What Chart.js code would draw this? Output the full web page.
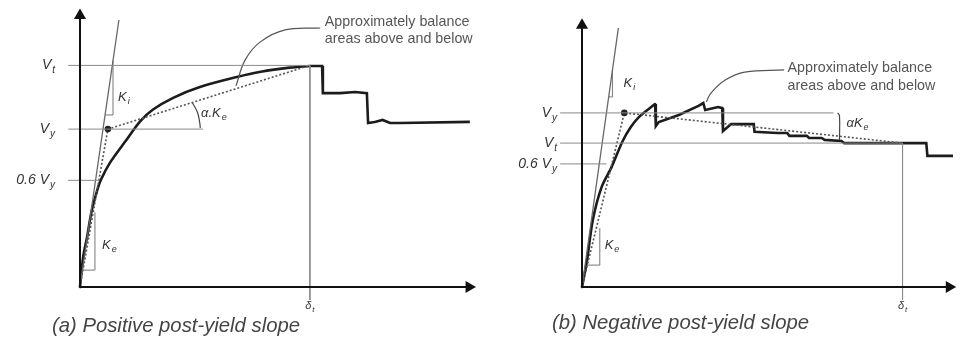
<!DOCTYPE html>
<html>
<head>
<meta charset="utf-8">
<script src="https://cdn.jsdelivr.net/npm/chart.js@4.4.1/dist/chart.umd.min.js"></script>
<style>
  html, body { margin: 0; padding: 0; background: #fff; }
  #wrap { display: flex; width: 960px; height: 341px; }
  canvas { display: block; }
</style>
</head>
<body>
<div id="wrap">
  <canvas id="chartA" width="480" height="341"></canvas>
  <canvas id="chartB" width="480" height="341"></canvas>
</div>
<script>
// ------------------------------
// (a) POSITIVE POST-YIELD SLOPE
// ------------------------------
const levelsA = [80, 57, 38.5];                // Vt, Vy, 0.6Vy
const levelEndsA = [58.5, 31.3, 4.6];
const levelLabelsA = [["V", "t"], ["V", "y"], ["0.6 V", "y"]];
const deltaA = 58.5;
const curveRiseA = [
  [0, 0], [0.8, 10.8], [1.8, 18], [2.9, 27], [4.3, 34.5], [5.3, 38.6],
  [7.6, 44.8], [11.5, 52.5], [15.3, 59.8], [18.5, 64], [23.7, 68.3], [30.5, 72.2],
  [39.9, 75.8], [46, 77.7], [53.4, 79.2], [58.5, 79.8]
];
const curveTailA = [
  [58.5, 79.8], [61.6, 79.8], [61.8, 70], [66.2, 70], [70, 70.4], [73, 70],
  [73.3, 59.2], [75, 59.6], [77, 60.3], [78.9, 59.2], [81.4, 59.2], [99.2, 59.6]
];
const bilinearA = [[0, 0], [7.1, 57], [58.5, 80]];
const kiLineA = [[0, 0], [9.9, 96.4]];
const kiTriA = [[6.4, 62.1], [8.4, 62.1], [8.4, 81.8]];
const keTriA = [[0.8, 6.1], [3.8, 6.1], [3.8, 27]];
const leaderA = [[61.1, 93.5], [52.2, 92.8], [45.8, 88.4], [42, 81.9], [39.7, 72.6]];
const alphaArcA = [[28.6, 66.5], [29.9, 63], [30.5, 59], [30.6, 57.4]];
const noteAnchorA = [62.3, 95.7];
const kLabelsA = [
  { t: ["K", "i"], at: [9.7, 68.6] },
  { t: ["K", "e"], at: [5.6, 15.2] },
  { t: ["\u03b1.K", "e"], at: [30.8, 62.8] }
];
const captionA = "(a) Positive post-yield slope";

// ------------------------------
// (b) NEGATIVE POST-YIELD SLOPE
// ------------------------------
const levelsB = [65.2, 53.9, 46.1];            // Vy, Vt, 0.6Vy
const levelEndsB = [67.8, 86.4, 6.6];
const levelLabelsB = [["V", "y"], ["V", "t"], ["0.6 V", "y"]];
const deltaB = 86.4;
const curveRiseB = [
  [0, 0], [1.3, 9.4], [2.9, 25], [5.3, 37.5], [8, 45], [10.9, 54.5], [13.2, 60],
  [15.4, 63.7], [19.7, 68.5]
];
const curveTailB = [
  [19.7, 68.5], [19.9, 60.3], [20.7, 61.8], [26.1, 64.4], [31.4, 67.8], [32.7, 68.9],
  [33.2, 66.3], [36.7, 67.4], [37.8, 67], [38, 58.4], [40.2, 61], [46.3, 61],
  [46.5, 58.1], [52.7, 57.7], [55.3, 57.7], [55.9, 56.6], [60.6, 56.6], [61.2, 55.8],
  [64.6, 55.8], [65.4, 55.1], [69.9, 54.7], [70.7, 53.9], [86.4, 53.9], [92.8, 53.9],
  [93.1, 49.1], [100, 49.1]
];
const bilinearB = [[0, 0], [11.4, 65.2], [86.4, 53.9]];
const kiLineB = [[0, 0], [9.8, 97]];
const kiTriB = [[7.2, 71.2], [8.2, 71.2], [8.2, 81.2]];
const keTriB = [[1.4, 8.2], [4.8, 8.2], [4.8, 22]];
const leaderB = [[54.5, 81.3], [43.9, 80.5], [38.6, 77.5], [34.8, 72.7], [33.5, 69.3]];
const alphaArcB = [[68.9, 65.2], [69.4, 64.2], [69.4, 55.1]];
const noteAnchorB = [55.4, 82];
const kLabelsB = [
  { t: ["K", "i"], at: [11.2, 76.4] },
  { t: ["K", "e"], at: [6.1, 15.7] },
  { t: ["\u03b1K", "e"], at: [71.3, 61.4] }
];
const captionB = "(b) Negative post-yield slope";

const noteLines = ["Approximately balance", "areas above and below"];

// ---------------- helpers ----------------
const FONT = '"Liberation Sans", Arial, sans-serif';
const pts = arr => arr.map(p => ({ x: p[0], y: p[1] }));

function line(data, color, width, extra) {
  return Object.assign({
    data: pts(data), showLine: true, borderColor: color, borderWidth: width,
    pointRadius: 0, clip: false, tension: 0
  }, extra || {});
}

function subText(ctx, parts, x, y, align, size) {
  const main = parts[0], sub = parts[1];
  const fMain = "italic " + size + "px " + FONT;
  const fSub = "italic " + Math.round(size * 0.7) + "px " + FONT;
  ctx.font = fMain;
  const w1 = ctx.measureText(main).width;
  ctx.font = fSub;
  const w2 = ctx.measureText(sub).width;
  const total = w1 + w2 + 1;
  let x0 = x;
  if (align === "right") x0 = x - total;
  if (align === "center") x0 = x - total / 2;
  ctx.textAlign = "left";
  ctx.textBaseline = "middle";
  ctx.font = fMain;
  ctx.fillText(main, x0, y);
  ctx.font = fSub;
  ctx.fillText(sub, x0 + w1 + 1, y + size * 0.35);
}

function buildPanel(id, p) {
  const labelPlugin = {
    id: "labels" + id,
    afterDatasetsDraw(chart) {
      const ctx = chart.ctx, xs = chart.scales.x, ys = chart.scales.y;
      const X = v => xs.getPixelForValue(v), Y = v => ys.getPixelForValue(v);
      ctx.save();
      ctx.fillStyle = "#333";
      p.levels.forEach((lv, i) => subText(ctx, p.levelLabels[i], X(0) - 25, Y(lv), "right", 14));
      p.kLabels.forEach(k => subText(ctx, k.t, X(k.at[0]), Y(k.at[1]), "left", 13));
      subText(ctx, ["\u03b4", "t"], X(p.delta), Y(0) + 19, "center", 11);
      ctx.fillStyle = "#555";
      ctx.font = "14.3px " + FONT;
      ctx.textAlign = "left";
      ctx.textBaseline = "middle";
      noteLines.forEach((t, i) => ctx.fillText(t, X(p.note[0]), Y(p.note[1]) + i * 17.5));
      ctx.fillStyle = "#444";
      ctx.font = "italic 20.3px " + FONT;
      ctx.fillText(p.caption, X(0) - p.capOffset, Y(0) + p.capDrop);
      ctx.restore();
    }
  };

  const levelSets = p.levels.map((lv, i) =>
    line([[p.tickStart, lv], [p.levelEnds[i], lv]], "#8a8a8a", 1));

  new Chart(document.getElementById(id), {
    type: "scatter",
    data: {
      datasets: [
        line([[0, 0], [0, 98]], "#111", 2, {
          pointRadius: [0, 5], pointStyle: "triangle", pointRotation: 0,
          pointBackgroundColor: "#111", pointBorderColor: "#111"
        }),
        line([[0, 0], [99, 0]], "#111", 2, {
          pointRadius: [0, 5], pointStyle: "triangle", pointRotation: 90,
          pointBackgroundColor: "#111", pointBorderColor: "#111"
        }),
        ...levelSets,
        line([[p.delta, p.levelTop], [p.delta, -4.7]], "#8a8a8a", 1),
        line(p.kiLine, "#666", 1.3),
        line(p.kiTri, "#777", 1),
        line(p.keTri, "#777", 1),
        line(p.bilinear, "#555", 1.6, {
          borderDash: [2, 2], pointRadius: [0, 2.5, 0],
          pointBackgroundColor: "#222", pointBorderColor: "#222"
        }),
        line(p.leader, "#555", 1.2, { tension: 0.4 }),
        line(p.alphaArc, "#444", 1.2, { tension: 0.4 }),
        line(p.curveRise, "#1c1c1c", 2.6, { tension: 0.3, borderCapStyle: "round" }),
        line(p.curveTail, "#1c1c1c", 2.6, { borderJoinStyle: "miter" })
      ]
    },
    options: {
      responsive: false,
      animation: false,
      layout: { padding: p.padding },
      scales: {
        x: { type: "linear", min: 0, max: 100, display: false },
        y: { type: "linear", min: 0, max: 100, display: false }
      },
      plugins: { legend: { display: false }, tooltip: { enabled: false } }
    },
    plugins: [labelPlugin]
  });
}

buildPanel("chartA", {
  levels: levelsA, levelEnds: levelEndsA, levelLabels: levelLabelsA, delta: deltaA,
  levelTop: levelsA[0], curveRise: curveRiseA, curveTail: curveTailA,
  bilinear: bilinearA, kiLine: kiLineA,
  kiTri: kiTriA, keTri: keTriA, leader: leaderA, alphaArc: alphaArcA,
  note: noteAnchorA, kLabels: kLabelsA, caption: captionA,
  tickStart: -3, capOffset: 28, capDrop: 39,
  padding: { left: 80, right: 7, top: 10, bottom: 54 }
});

buildPanel("chartB", {
  levels: levelsB, levelEnds: levelEndsB, levelLabels: levelLabelsB, delta: deltaB,
  levelTop: levelsB[1], curveRise: curveRiseB, curveTail: curveTailB,
  bilinear: bilinearB, kiLine: kiLineB,
  kiTri: kiTriB, keTri: keTriB, leader: leaderB, alphaArc: alphaArcB,
  note: noteAnchorB, kLabels: kLabelsB, caption: captionB,
  tickStart: -5.9, capOffset: 30, capDrop: 36,
  padding: { left: 102, right: 2, top: 20, bottom: 54 }
});
</script>
</body>
</html>
